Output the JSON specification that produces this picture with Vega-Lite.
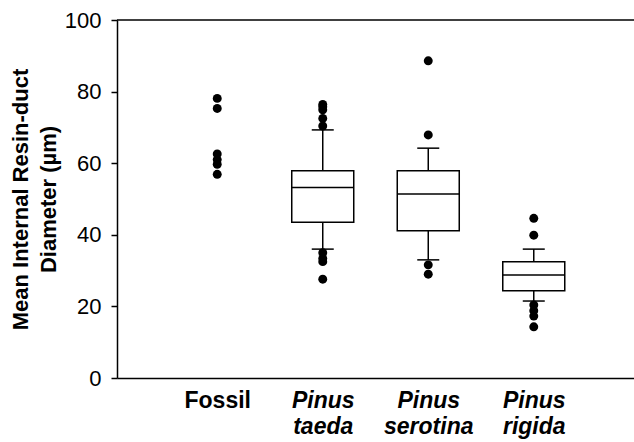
{
  "$schema": "https://vega.github.io/schema/vega-lite/v6.json",
  "width": 517,
  "height": 358,
  "autosize": {"type": "none"},
  "padding": {"left": 117, "top": 20, "right": 0, "bottom": 64},
  "background": "white",
  "config": {
    "view": {"stroke": null},
    "font": "Liberation Sans"
  },
  "datasets": {
    "boxes": [
      {"group": "Pinus taeda", "lower": 36.0, "q1": 43.5, "median": 53.2, "q3": 57.9, "upper": 69.3},
      {"group": "Pinus serotina", "lower": 33.0, "q1": 41.1, "median": 51.4, "q3": 57.9, "upper": 64.2},
      {"group": "Pinus rigida", "lower": 21.5, "q1": 24.4, "median": 28.8, "q3": 32.5, "upper": 36.0}
    ],
    "points": [
      {"group": "Fossil", "value": 78.1},
      {"group": "Fossil", "value": 75.3},
      {"group": "Fossil", "value": 62.6},
      {"group": "Fossil", "value": 61.0},
      {"group": "Fossil", "value": 59.7},
      {"group": "Fossil", "value": 56.9},
      {"group": "Pinus taeda", "value": 76.4},
      {"group": "Pinus taeda", "value": 75.8},
      {"group": "Pinus taeda", "value": 74.9},
      {"group": "Pinus taeda", "value": 72.5},
      {"group": "Pinus taeda", "value": 70.4},
      {"group": "Pinus taeda", "value": 35.0},
      {"group": "Pinus taeda", "value": 33.4},
      {"group": "Pinus taeda", "value": 32.5},
      {"group": "Pinus taeda", "value": 27.6},
      {"group": "Pinus serotina", "value": 88.6},
      {"group": "Pinus serotina", "value": 67.9},
      {"group": "Pinus serotina", "value": 31.6},
      {"group": "Pinus serotina", "value": 29.0},
      {"group": "Pinus rigida", "value": 44.6},
      {"group": "Pinus rigida", "value": 39.9},
      {"group": "Pinus rigida", "value": 20.4},
      {"group": "Pinus rigida", "value": 18.8},
      {"group": "Pinus rigida", "value": 17.3},
      {"group": "Pinus rigida", "value": 14.3}
    ]
  },
  "encoding": {
    "x": {
      "field": "group",
      "type": "nominal",
      "sort": ["Fossil", "Pinus taeda", "Pinus serotina", "Pinus rigida"],
      "scale": {"type": "point", "padding": 0.95, "domain": ["Fossil", "Pinus taeda", "Pinus serotina", "Pinus rigida"]},
      "axis": {
        "title": null,
        "labelAngle": 0,
        "ticks": false,
        "domainColor": "black",
        "domainWidth": 1.5,
        "labelColor": "black",
        "labelFont": "Liberation Sans",
        "labelFontSize": 23,
        "labelFontWeight": "bold",
        "labelFontStyle": {"condition": {"test": "datum.value == 'Fossil'", "value": "normal"}, "value": "italic"},
        "labelExpr": "datum.value == 'Fossil' ? 'Fossil' : split(datum.value, ' ')",
        "labelLineHeight": 26,
        "labelPadding": 11,
        "grid": false
      }
    }
  },
  "layer": [
    {
      "data": {"values": [{"y": 100}]},
      "mark": {"type": "rule", "color": "black", "strokeWidth": 1.5},
      "encoding": {"y": {"field": "y", "type": "quantitative"}, "x": null}
    },
    {
      "data": {"name": "boxes"},
      "mark": {"type": "rule", "color": "black", "strokeWidth": 1.5},
      "encoding": {
        "y": {"field": "lower", "type": "quantitative", "scale": {"domain": [0, 100], "nice": false},
          "axis": {
            "title": ["Mean Internal Resin-duct", "Diameter (µm)"],
            "values": [0, 20, 40, 60, 80, 100],
            "grid": false,
            "domainColor": "black",
            "domainWidth": 1.5,
            "tickColor": "black",
            "tickWidth": 1.5,
            "tickSize": 6,
            "labelColor": "black",
            "labelFont": "Liberation Sans",
            "labelFontSize": 22,
            "labelPadding": 10,
            "titleColor": "black",
            "titleFont": "Liberation Sans",
            "titleFontSize": 22,
            "titleFontWeight": "bold",
            "titleLineHeight": 28,
            "titlePadding": 4
          }},
        "y2": {"field": "upper"}
      }
    },
    {
      "data": {"name": "boxes"},
      "mark": {"type": "bar", "fill": "white", "stroke": "black", "strokeWidth": 1.5, "size": 62},
      "encoding": {
        "y": {"field": "q1", "type": "quantitative"},
        "y2": {"field": "q3"}
      }
    },
    {
      "data": {"name": "boxes"},
      "mark": {"type": "tick", "color": "black", "opacity": 1, "size": 62, "thickness": 1.5},
      "encoding": {"y": {"field": "median", "type": "quantitative"}}
    },
    {
      "data": {"name": "boxes"},
      "mark": {"type": "tick", "color": "black", "opacity": 1, "size": 22, "thickness": 1.5},
      "encoding": {"y": {"field": "upper", "type": "quantitative"}}
    },
    {
      "data": {"name": "boxes"},
      "mark": {"type": "tick", "color": "black", "opacity": 1, "size": 22, "thickness": 1.5},
      "encoding": {"y": {"field": "lower", "type": "quantitative"}}
    },
    {
      "data": {"name": "points"},
      "mark": {"type": "circle", "color": "black", "opacity": 1, "size": 80},
      "encoding": {"y": {"field": "value", "type": "quantitative"}}
    }
  ]
}
